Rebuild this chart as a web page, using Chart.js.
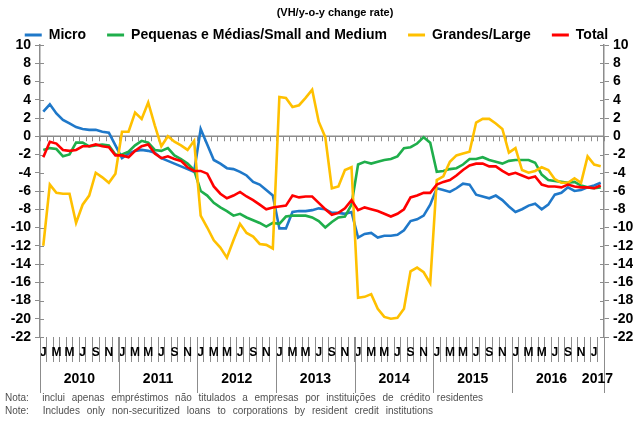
<!DOCTYPE html>
<html>
<head>
<meta charset="utf-8">
<script src="https://cdn.jsdelivr.net/npm/chart.js@4.4.1/dist/chart.umd.min.js"></script>
<style>
  html, body { margin: 0; padding: 0; background: #fff; }
</style>
</head>
<body>
<canvas id="chart" width="633" height="421"></canvas>
<script>
// --- data ---
const years = ['2010', '2011', '2012', '2013', '2014', '2015', '2016', '2017'];
const monthLetters = ['J', 'F', 'M', 'A', 'M', 'J', 'J', 'A', 'S', 'O', 'N', 'D'];
const seriesNames = ['Micro', 'Pequenas e Médias/Small and Medium', 'Grandes/Large', 'Total'];

// Jan 2010 .. Feb 2017, y-o-y change rate (%)
const micro = [
  2.7, 3.5, 2.5, 1.8, 1.4, 1.0, 0.8, 0.7, 0.7, 0.5, 0.4, -1.0,
  -2.4, -1.9, -1.6, -1.5, -1.6, -1.8, -2.4, -2.7, -3.0, -3.3, -3.6, -3.9,
  0.8, -0.9, -2.6, -3.0, -3.5, -3.6, -3.9, -4.3, -5.0, -5.3, -5.9, -6.5,
  -10.1, -10.1, -8.3, -8.2, -8.2, -8.1, -7.9, -8.0, -8.4, -8.4, -8.5, -8.3,
  -11.1, -10.7, -10.6, -11.1, -10.9, -10.9, -10.8, -10.3, -9.3, -9.1, -8.7, -7.5,
  -5.7, -5.9, -6.1, -5.7, -5.2, -5.3, -6.4, -6.6, -6.8, -6.5, -7.0, -7.7,
  -8.3, -8.0, -7.6, -7.4, -8.0, -7.5, -6.4, -6.2, -5.6, -6.0, -5.9, -5.6,
  -5.4, -5.1
];
const smallMedium = [
  -1.5, -1.3, -1.4, -2.2, -2.0, -0.7, -0.7, -1.1, -1.0, -0.9, -1.0, -2.0,
  -2.0, -1.7, -1.0, -0.5, -0.7, -1.5, -1.6, -1.3, -2.1, -2.5, -3.0, -3.7,
  -6.0, -6.5, -7.3, -7.8, -8.2, -8.7, -8.5, -8.9, -9.2, -9.5, -9.9, -9.5,
  -9.6, -8.8, -8.7, -8.7, -8.7, -8.9, -9.3, -10.0, -9.4, -8.9, -8.8, -7.5,
  -3.1, -2.8, -3.0, -2.8, -2.6, -2.5, -2.2, -1.3, -1.2, -0.8, -0.1, -0.7,
  -3.9, -3.8, -3.6, -3.5, -3.1, -2.5, -2.5, -2.3, -2.6, -2.8, -3.0, -2.7,
  -2.6, -2.6, -2.6, -2.9, -4.2, -4.8, -4.9, -5.0, -5.1, -5.0, -5.4, -5.6,
  -5.7, -5.6
];
const large = [
  -12.0, -5.3, -6.2, -6.3, -6.3, -9.5, -7.5, -6.5, -4.0, -4.5, -5.1, -4.1,
  0.5, 0.5, 2.6, 1.9, 3.7, 1.2, -1.1, 0.0, -0.6, -1.0, -1.5, -0.5,
  -8.7, -10.0, -11.4, -12.2, -13.3, -11.4, -9.6, -10.6, -11.0, -11.8, -11.9, -12.3,
  4.3, 4.2, 3.2, 3.4, 4.2, 5.1, 1.6, -0.1, -5.7, -5.5, -3.7, -3.4,
  -17.7, -17.6, -17.3, -18.9, -19.8, -20.0, -19.9, -18.9, -14.8, -14.4, -14.9, -16.1,
  -4.8, -4.4, -2.8, -2.1, -1.9, -1.7, 1.5, 1.9, 1.9, 1.4, 0.8, -1.8,
  -1.3, -3.7, -4.0, -3.8, -3.4, -3.7, -4.7, -5.1, -5.1, -4.6, -5.1, -2.2,
  -3.1, -3.3
];
const total = [
  -2.3, -0.6, -0.8, -1.5, -1.6, -1.5, -1.1, -1.1, -0.9, -1.1, -1.2, -2.1,
  -2.1, -2.3, -1.6, -1.1, -0.9, -1.9, -2.4, -2.2, -2.5, -2.7, -3.4, -3.8,
  -3.8, -4.1, -5.5, -6.3, -6.8, -6.5, -6.1, -6.6, -7.0, -7.5, -8.0, -7.8,
  -7.7, -7.6, -6.5, -6.7, -6.6, -6.6, -7.3, -8.0, -8.6, -8.4, -7.9, -7.0,
  -8.1, -7.8, -8.0, -8.2, -8.5, -8.8, -8.5, -8.0, -6.7, -6.5, -6.2, -6.2,
  -5.3, -5.0, -4.8, -4.3, -3.7, -3.2, -3.0, -3.0, -3.3, -3.3, -3.8, -4.2,
  -4.0, -4.3, -4.6, -4.4, -5.3, -5.5, -5.5, -5.6, -5.3, -5.5, -5.6, -5.6,
  -5.7, -5.4
];

const notePt = 'Nota:  inclui apenas empréstimos não titulados a empresas por instituições de crédito residentes';
const noteEn = 'Note:  Includes only non-securitized loans to corporations by resident credit institutions';
const titleText = '(VH/y-o-y change rate)';

// one category per month
const categories = [];
for (let i = 0; i < micro.length; i++) {
  categories.push(years[Math.floor(i / 12)] + '-' + (i % 12 + 1));
}

const FONT = "'Liberation Sans', Arial, sans-serif";
Chart.defaults.font.family = FONT;
Chart.defaults.color = '#000';

const COLORS = ['#1f78c9', '#1fae4b', '#ffc000', '#ff0000'];
const GREY = '#8c8c8c';

// --- decorations drawn through the scales ---
const decor = {
  id: 'decor',
  afterLayout(chart) {
    // push legend row down to sit just above the plot
    chart.legend.top += 7;
    chart.legend.bottom += 7;
  },
  beforeDatasetsDraw(chart) {
    const { ctx, chartArea: a, scales: { x, y } } = chart;
    const y0 = y.getPixelForValue(0);
    const step = x.getPixelForValue(1) - x.getPixelForValue(0);
    ctx.save();
    ctx.strokeStyle = GREY;
    ctx.lineWidth = 1.5;
    ctx.beginPath();
    ctx.moveTo(a.left, y0);
    ctx.lineTo(a.right, y0);
    ctx.stroke();
    ctx.lineWidth = 1;
    ctx.beginPath();
    for (let i = 0; i <= categories.length; i++) {
      const px = Math.round(x.getPixelForValue(i) - step / 2) + 0.5;
      ctx.moveTo(px, y0);
      ctx.lineTo(px, y0 + 5);
    }
    // inner half of the value-axis ticks
    for (let v = -22; v <= 10; v += 2) {
      const py = Math.round(y.getPixelForValue(v)) + 0.5;
      ctx.moveTo(a.left, py);
      ctx.lineTo(a.left + 4, py);
      ctx.moveTo(a.right, py);
      ctx.lineTo(a.right - 4, py);
    }
    ctx.stroke();
    ctx.restore();
  },
  afterDraw(chart) {
    const { ctx, chartArea: a, scales: { x } } = chart;
    const step = x.getPixelForValue(1) - x.getPixelForValue(0);
    ctx.save();

    // year separators
    ctx.strokeStyle = GREY;
    ctx.lineWidth = 1;
    ctx.beginPath();
    const bounds = [];
    for (let k = 0; k < 7; k++) bounds.push(k * 12 - 0.5);
    bounds.push(categories.length - 0.5);
    bounds.forEach(b => {
      const px = Math.round(x.getPixelForValue(0) + (b * step)) + 0.5;
      ctx.moveTo(px, a.bottom);
      ctx.lineTo(px, 393);
    });
    ctx.stroke();

    // year labels
    ctx.fillStyle = '#000';
    ctx.font = 'bold 14px ' + FONT;
    ctx.textAlign = 'center';
    ctx.textBaseline = 'middle';
    years.forEach((yr, k) => {
      const s = k * 12;
      const e = Math.min(k * 12 + 11, categories.length - 1);
      const cx = (x.getPixelForValue(s) + x.getPixelForValue(e)) / 2;
      ctx.fillText(yr, cx, 379);
    });

    // title
    ctx.font = 'bold 11px ' + FONT;
    ctx.fillText(titleText, 335, 13);

    // notes
    ctx.textAlign = 'left';
    ctx.fillStyle = '#505050';
    ctx.font = '10px ' + FONT;
    const fitNote = (t, yPos, target) => {
      ctx.wordSpacing = '0px';
      const w = ctx.measureText(t).width;
      const spaces = (t.match(/ /g) || []).length;
      ctx.wordSpacing = Math.max(0, (target - w) / spaces) + 'px';
      ctx.fillText(t, 5, yPos);
      ctx.wordSpacing = '0px';
    };
    fitNote(notePt, 398, 478);
    fitNote(noteEn, 411, 428);
    ctx.restore();
  }
};

const yTicks = {
  stepSize: 2,
  autoSkip: false,
  padding: 4,
  font: { size: 14, weight: 'bold' },
  color: '#000'
};

new Chart(document.getElementById('chart'), {
  type: 'line',
  data: {
    labels: categories,
    datasets: [micro, smallMedium, large, total].map((d, i) => ({
      label: seriesNames[i],
      data: d,
      borderColor: COLORS[i],
      backgroundColor: COLORS[i],
      borderWidth: 2.6,
      pointRadius: 0,
      tension: 0,
      fill: false,
      yAxisID: 'y',
      order: 4 - i
    }))
  },
  options: {
    responsive: false,
    animation: false,
    devicePixelRatio: 1,
    layout: { padding: 0 },
    plugins: {
      tooltip: { enabled: false },
      title: { display: false },
      legend: {
        position: 'top',
        labels: {
          boxWidth: 17,
          boxHeight: 3,
          padding: 21,
          font: { size: 14, weight: 'bold' },
          color: '#000',
          sort: (a, b) => a.datasetIndex - b.datasetIndex,
          generateLabels(chart) {
            return Chart.defaults.plugins.legend.labels.generateLabels(chart)
              .map(l => Object.assign(l, { lineWidth: 0 }));
          }
        }
      }
    },
    scales: {
      x: {
        type: 'category',
        offset: true,
        grid: {
          offset: true,
          drawOnChartArea: false,
          tickLength: 25,
          color: GREY
        },
        border: { display: false },
        ticks: {
          autoSkip: false,
          maxRotation: 0,
          minRotation: 0,
          padding: -17,
          font: { size: 12, weight: 'bold' },
          color: '#000',
          callback: (v, i) => (i % 2 === 0 ? monthLetters[i % 12] : '')
        },
        afterFit(s) { s.height = 84; }
      },
      y: {
        position: 'left',
        min: -22,
        max: 10,
        ticks: yTicks,
        grid: { drawOnChartArea: false, tickLength: 5, color: GREY },
        border: { color: GREY, width: 1.5 },
        afterFit(s) { s.width = 40; }
      },
      y2: {
        position: 'right',
        min: -22,
        max: 10,
        ticks: yTicks,
        grid: { drawOnChartArea: false, tickLength: 5, color: GREY },
        border: { color: GREY, width: 1.5 },
        afterFit(s) { s.width = 29; }
      }
    }
  },
  plugins: [decor]
});
</script>
</body>
</html>
